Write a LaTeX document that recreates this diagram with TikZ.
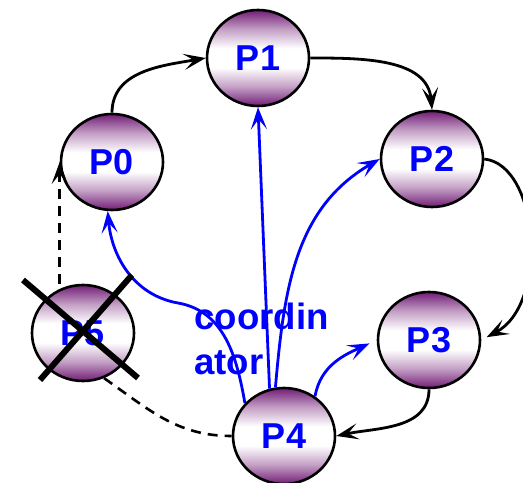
\documentclass[tikz,border=0pt]{standalone}
\usepackage{fontspec}
\setmainfont{Liberation Sans}
\usetikzlibrary{arrows.meta,shapes.geometric,positioning}
\definecolor{procPurple}{HTML}{7A2A7E}
\definecolor{msgBlue}{HTML}{0000FF}
\pgfdeclareverticalshading{procshade}{100bp}{color(0bp)=(procPurple);
  color(26bp)=(procPurple); color(35bp)=(procPurple!45!white);
  color(45bp)=(white); color(55bp)=(white); color(65bp)=(procPurple!45!white);
  color(74bp)=(procPurple); color(100bp)=(procPurple)}
\tikzset{
  >={Stealth[length=11pt,width=8pt,inset=5pt]},
  proc/.style={ellipse, draw=black, line width=1.3pt, minimum width=51pt,
              minimum height=48pt, inner sep=0pt, shading=procshade,
              text=msgBlue, font=\fontsize{18}{21}\selectfont\bfseries},
  lbl/.style={text=msgBlue, align=left, inner sep=0pt,
              font=\fontsize{18.3}{22.5}\selectfont\bfseries},
  ring/.style={->, draw=black, line width=1.4pt},
  lost/.style={draw=black, line width=1.3pt, dash pattern=on 5pt off 3.5pt},
  notify/.style={->, draw=msgBlue, line width=1.4pt},
  cross/.style={draw=black, line width=3pt},
}

\begin{document}
\begin{tikzpicture}[x=0.5pt,y=0.5pt]
  \useasboundingbox (0,0) rectangle (523,482);
  \node[proc] (P0) at (112,320) {P0};
  \node[proc] (P1) at (258,424) {P1};
  \node[proc] (P2) at (432,323) {P2};
  \node[proc] (P3) at (429,142) {P3};
  \node[proc] (P4) at (284,46) {P4};
  \node[proc] (P5) at (83,149) {P5};
  \coordinate (detour) at (178,179);
  \node[lbl,anchor=north west] (coord) at (194,179) {coordin\\ator};
  \draw[ring] (P0.north) to[out=90,in=190] (P1.west);
  \draw[ring] (P1.east) to[out=0,in=95] (P2.north);
  \draw[ring,shorten >=3pt] (P2.east) .. controls +(55,-6) and +(68,36) .. (P3.east);
  \draw[ring] (P3.south) to[out=-90,in=12] (P4.east);
  \draw[lost] (P5.-65) to[out=-35,in=180] (P4.west);
  \draw[lost,->] (P5.north -| P0.west) -- (P0.west);
  \draw[notify] (P4.140) to[out=100,in=-10] (detour) to[out=170,in=-85] (P0.265);
  \draw[notify] (P4.107) -- (P1.south);
  \draw[notify] (P4.100) to[out=85,in=210] (P2.west);
  \draw[notify,shorten >=4pt] (P4.52) to[out=80,in=205] (P3.west);
  \draw[cross] (P5.center) ++(-60,53) -- ++(115,-98);
  \draw[cross] (P5.center) ++(49,58) -- ++(-92,-105);
\end{tikzpicture}
\end{document}
